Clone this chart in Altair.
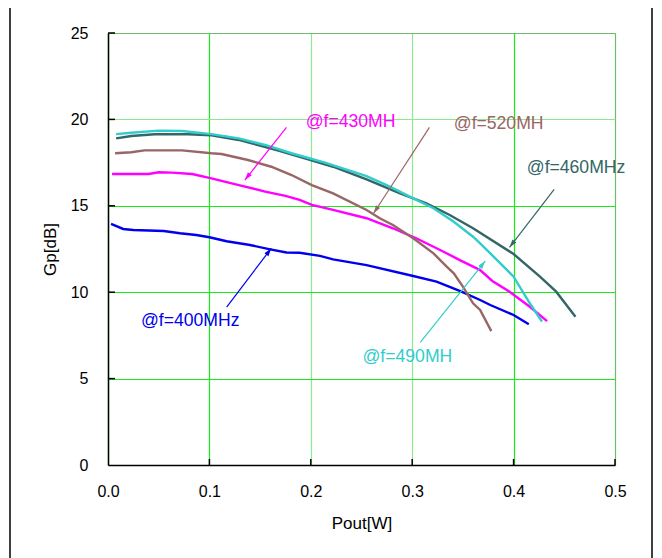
import altair as alt
import pandas as pd
import numpy as np

# ---- data ----
x400 = [0.003,0.015,0.025,0.055,0.071,0.087,0.100,0.117,0.140,0.160,0.176,0.189,0.209,0.222,0.255,0.301,0.324,0.348,0.367,0.377,0.400,0.415]
y400 = [13.95,13.66,13.60,13.54,13.41,13.31,13.18,12.95,12.73,12.48,12.30,12.28,12.10,11.90,11.57,10.94,10.61,10.05,9.55,9.26,8.68,8.14]

x430 = [0.004,0.040,0.050,0.063,0.083,0.102,0.129,0.155,0.175,0.189,0.201,0.222,0.255,0.281,0.304,0.329,0.347,0.367,0.379,0.396,0.416,0.433]
y430 = [16.84,16.84,16.94,16.92,16.84,16.59,16.20,15.82,15.57,15.34,15.05,14.76,14.28,13.70,13.12,12.40,11.86,11.28,10.65,10.03,9.16,8.33]

x520 = [0.007,0.023,0.036,0.073,0.102,0.112,0.138,0.161,0.181,0.201,0.222,0.255,0.268,0.281,0.301,0.321,0.334,0.341,0.350,0.360,0.367,0.378]
y520 = [18.04,18.10,18.21,18.21,18.04,18.00,17.65,17.26,16.78,16.20,15.72,14.76,14.28,13.89,13.12,12.25,11.48,11.09,10.32,9.36,8.97,7.75]

x460 = [0.008,0.023,0.046,0.079,0.102,0.129,0.148,0.168,0.194,0.222,0.255,0.288,0.314,0.337,0.360,0.400,0.426,0.442,0.461]
y460 = [18.90,19.04,19.14,19.14,19.08,18.81,18.52,18.19,17.75,17.26,16.53,15.72,15.14,14.47,13.70,12.21,10.90,10.03,8.58]

x490 = [0.008,0.023,0.050,0.073,0.102,0.129,0.155,0.181,0.214,0.255,0.278,0.301,0.321,0.341,0.360,0.367,0.377,0.400,0.416,0.428]
y490 = [19.15,19.23,19.35,19.33,19.15,18.90,18.52,18.04,17.50,16.72,16.11,15.43,14.86,14.08,13.21,12.83,12.25,10.90,9.36,8.30]

series_names = ["400", "430", "520", "460", "490"]
series_colors = ["#0000ee", "#ff00ff", "#996666", "#336666", "#33cccc"]

ann_series = ["400", "430", "520", "460", "490"]
ann_labels = ["@f=400MHz", "@f=430MH", "@f=520MH", "@f=460MHz", "@f=490MH"]
ann_text_x = [0.0325, 0.195, 0.341, 0.413, 0.251]
ann_text_y = [8.33, 19.85, 19.73, 17.19, 6.25]
arrow_x0 = [0.117, 0.176, 0.317, 0.440, 0.308]
arrow_y0 = [9.13, 19.54, 19.54, 15.95, 7.10]
arrow_x1 = [0.161, 0.135, 0.262, 0.396, 0.372]
arrow_y1 = [12.54, 16.49, 14.57, 12.60, 11.80]

x_ticks = [0.1, 0.2, 0.3, 0.4, 0.5]
y_ticks = [5, 10, 15, 20, 25]

# ---- layout ----
W, H = 507, 432
XMAX, YMAX = 0.5, 25
FONT = "Liberation Sans"

rows = []
for name, xs, ys in zip(series_names, [x400, x430, x520, x460, x490], [y400, y430, y520, y460, y490]):
    for a, b in zip(xs, ys):
        rows.append({"s": name, "x": a, "y": b})
lines_df = pd.DataFrame(rows)

ann_df = pd.DataFrame({
    "s": ann_series, "label": ann_labels, "tx": ann_text_x, "ty": ann_text_y,
    "x0": arrow_x0, "y0": arrow_y0, "x1": arrow_x1, "y1": arrow_y1,
})
dxp = (ann_df["x1"] - ann_df["x0"]) * (W / XMAX)
dyu = (ann_df["y1"] - ann_df["y0"]) * (H / YMAX)
ann_df["ang"] = np.mod(np.degrees(np.arctan2(dxp, dyu)), 360)

xscale = alt.Scale(domain=[0, XMAX], nice=False, zero=False)
yscale = alt.Scale(domain=[0, YMAX], nice=False, zero=False)
cscale = alt.Scale(domain=series_names, range=series_colors)

def grid_color(light_vals, edge_val):
    conds = [{"test": f"abs(datum.value - {edge_val}) < 1e-6", "value": "#6cbc6c"}]
    for v in light_vals:
        conds.append({"test": f"abs(datum.value - {v}) < 1e-6", "value": "#8ee88e"})
    return {"condition": conds, "value": "#14ee14"}

x_axis = alt.Axis(values=[0, 0.1, 0.2, 0.3, 0.4, 0.5], format=".1f", title="Pout[W]",
                  ticks=False, tickSize=0, labelPadding=18, labelFontSize=16, labelFont=FONT,
                  labelColor="black", titleFont=FONT, titleFontSize=17, titleFontWeight="normal",
                  titleColor="black", titleY=58, titleBaseline="middle",
                  grid=True, gridColor=grid_color([0.2, 0.3], 0.5), gridWidth=1.2,
                  domainColor="black", domainWidth=1.5, labelFlush=False)
y_axis = alt.Axis(values=[0, 5, 10, 15, 20, 25], format="d", title="Gp[dB]",
                  ticks=False, tickSize=0, labelPadding=20, labelFontSize=16, labelFont=FONT,
                  labelColor="black", titleFont=FONT, titleFontSize=17, titleFontWeight="normal",
                  titleColor="black", titleX=-58, titleY=H / 2, titleBaseline="middle",
                  grid=True, gridColor=grid_color([20], 25), gridWidth=1.2,
                  domainColor="black", domainWidth=1.5, labelFlush=False)

curves = alt.Chart(lines_df).mark_line(strokeWidth=2.4, clip=False).encode(
    x=alt.X("x:Q", scale=xscale, axis=x_axis),
    y=alt.Y("y:Q", scale=yscale, axis=y_axis),
    color=alt.Color("s:N", scale=cscale, legend=None),
    detail="s:N",
)

xt = alt.Chart(pd.DataFrame({"v": x_ticks})).mark_rule(color="black", strokeWidth=1.5).encode(
    x=alt.X("v:Q", scale=xscale), y=alt.value(H), y2=alt.value(H - 6))
yt = alt.Chart(pd.DataFrame({"v": y_ticks})).mark_rule(color="black", strokeWidth=1.5).encode(
    y=alt.Y("v:Q", scale=yscale), x=alt.value(0), x2=alt.value(7))

arrows = alt.Chart(ann_df).mark_rule(strokeWidth=1.2).encode(
    x=alt.X("x0:Q", scale=xscale), y=alt.Y("y0:Q", scale=yscale),
    x2="x1:Q", y2="y1:Q",
    color=alt.Color("s:N", scale=cscale, legend=None),
)
heads = alt.Chart(ann_df).mark_point(
    shape="M0,0L-0.5,1.6L0.5,1.6Z", filled=True, size=100, opacity=1
).encode(
    x=alt.X("x1:Q", scale=xscale), y=alt.Y("y1:Q", scale=yscale),
    angle=alt.Angle("ang:Q", scale=None),
    color=alt.Color("s:N", scale=cscale, legend=None),
)
texts = alt.Chart(ann_df).mark_text(align="left", baseline="middle", fontSize=17.6, font=FONT).encode(
    x=alt.X("tx:Q", scale=xscale), y=alt.Y("ty:Q", scale=yscale), text="label:N",
    color=alt.Color("s:N", scale=cscale, legend=None),
)

frame = alt.Chart(alt.Data(values=[{}])).mark_rect(fill=None, stroke="black", strokeWidth=1.5).encode(
    x=alt.value(-98), x2=alt.value(544), y=alt.value(-28), y2=alt.value(560))

chart = alt.layer(frame, curves, xt, yt, arrows, heads, texts).properties(
    width=W, height=H,
    autosize=alt.AutoSizeParams(type="none"),
    padding={"left": 100, "top": 25, "right": 39, "bottom": 93},
).configure_view(stroke=None).configure(background="white")

chart.save("out.html", embed_options={"renderer": "svg", "actions": False})
